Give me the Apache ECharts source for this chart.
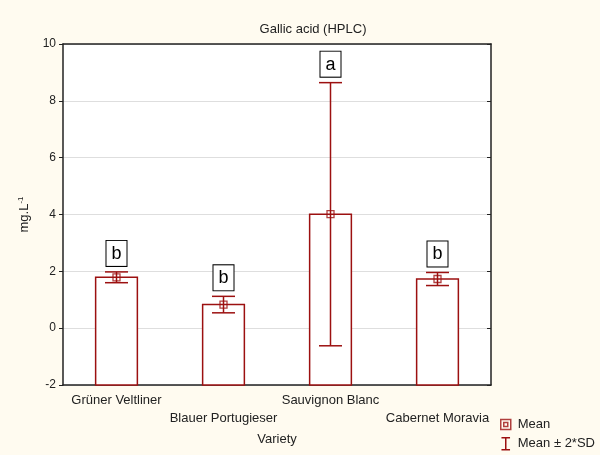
<!DOCTYPE html>
<html>
<head>
<meta charset="utf-8">
<script src="https://cdn.jsdelivr.net/npm/echarts@6/dist/echarts.min.js"></script>
<style>
  html, body { margin: 0; padding: 0; background: #FFFBF0; }
  #chart { width: 600px; height: 455px; }
</style>
</head>
<body>
<div id="chart"></div>
<script>
// Gallic acid content (HPLC) by grape variety: mean with ±2*SD whiskers
const categories = ['Grüner Veltliner', 'Blauer Portugieser', 'Sauvignon Blanc', 'Cabernet Moravia'];
const meanValues = [1.79, 0.83, 4.01, 1.73];
const twoSD = [0.19, 0.29, 4.63, 0.23];
const groupLetters = ['b', 'b', 'a', 'b'];
const yMin = -2, yMax = 10, yStep = 2;

const RED = '#9c1010';
const FONT = 'Liberation Sans, Arial, sans-serif';

const rows = categories.map((c, i) => [i, meanValues[i], twoSD[i], groupLetters[i]]);

const chart = echarts.init(document.getElementById('chart'));

chart.setOption({
  backgroundColor: '#FFFBF0',
  animation: false,
  textStyle: { fontFamily: FONT },
  title: {
    text: 'Gallic acid (HPLC)',
    left: 308, top: 18, textAlign: 'center',
    textStyle: { fontSize: 13, fontWeight: 'normal', color: '#222', fontFamily: FONT }
  },
  legend: {
    orient: 'vertical',
    left: 500, top: 418,
    padding: 0,
    itemWidth: 10, itemHeight: 12, itemGap: 6,
    textStyle: { fontSize: 13, color: '#222', fontFamily: FONT, padding: [0, 0, 0, 2] },
    data: [
      { name: 'Mean', icon: 'path://M0,0H10V10H0Z M3,3H7V7H3Z',
        itemStyle: { color: 'transparent', borderColor: RED, borderWidth: 1.5 } },
      { name: 'Mean ± 2*SD', icon: 'path://M0,0H10 M5,0V14 M0,14H10',
        itemStyle: { color: 'transparent', borderColor: RED, borderWidth: 1.5 } }
    ]
  },
  grid: { left: 63, right: 109, top: 44, bottom: 70, show: true, backgroundColor: '#fff', borderWidth: 0 },
  xAxis: [{
    type: 'category',
    data: categories,
    position: 'bottom',
    name: 'Variety',
    nameLocation: 'middle',
    nameGap: 48,
    nameTextStyle: { fontSize: 13, color: '#222', fontFamily: FONT },
    axisLine: { onZero: false, lineStyle: { color: '#222', width: 1.5 } },
    axisTick: { inside: true, alignWithLabel: true, length: 4, lineStyle: { color: '#222' } },
    axisLabel: {
      interval: 0, margin: 6, fontSize: 13, color: '#222', lineHeight: 18,
      formatter: (v, i) => (i % 2 === 1 ? '\n' + v : v)
    }
  }, {
    type: 'category',
    data: categories,
    position: 'top',
    axisLine: { onZero: false, lineStyle: { color: '#222', width: 1.5 } },
    axisTick: { inside: true, alignWithLabel: true, length: 4, lineStyle: { color: '#222' } },
    axisLabel: { show: false }
  }],
  yAxis: [{
    type: 'value',
    min: yMin, max: yMax, interval: yStep,
    name: 'mg.L{sup|-1}',
    nameLocation: 'middle',
    nameGap: 27,
    nameTextStyle: {
      fontSize: 13, color: '#222', fontFamily: FONT, lineHeight: 15,
      rich: { sup: { fontSize: 8, verticalAlign: 'top', lineHeight: 15, color: '#222' } }
    },
    axisLine: { show: true, onZero: false, lineStyle: { color: '#222', width: 1.5 } },
    axisTick: { show: true, length: 4, lineStyle: { color: '#222' } },
    axisLabel: { margin: 7, fontSize: 12, color: '#222' },
    splitLine: { show: true, lineStyle: { color: '#dedede', width: 1 } }
  }, {
    type: 'value',
    min: yMin, max: yMax, interval: yStep,
    position: 'right',
    axisLine: { show: true, onZero: false, lineStyle: { color: '#222', width: 1.5 } },
    axisTick: { show: true, inside: true, length: 4, lineStyle: { color: '#222' } },
    axisLabel: { show: false },
    splitLine: { show: false }
  }],
  series: [
    {
      // bars rising from the bottom of the value axis to the mean
      type: 'custom',
      name: 'bars',
      data: rows,
      z: 2,
      renderItem: (params, api) => {
        const base = api.coord([api.value(0), yMin]);
        const top = api.coord([api.value(0), api.value(1)]);
        const w = api.size([1, 0])[0] * 0.39;
        return {
          type: 'rect',
          shape: { x: top[0] - w / 2, y: top[1], width: w, height: base[1] - top[1] },
          style: { fill: '#fff', stroke: RED, lineWidth: 1.5 }
        };
      }
    },
    {
      type: 'custom',
      name: 'Mean ± 2*SD',
      data: rows,
      z: 3,
      itemStyle: { color: RED },
      renderItem: (params, api) => {
        const x = api.value(0), m = api.value(1), d = api.value(2);
        const hi = api.coord([x, m + d]);
        const lo = api.coord([x, m - d]);
        const cap = 11.5;
        const st = { stroke: RED, lineWidth: 1.5 };
        return {
          type: 'group',
          children: [
            { type: 'line', shape: { x1: hi[0], y1: hi[1], x2: lo[0], y2: lo[1] }, style: st },
            { type: 'line', shape: { x1: hi[0] - cap, y1: hi[1], x2: hi[0] + cap, y2: hi[1] }, style: st },
            { type: 'line', shape: { x1: lo[0] - cap, y1: lo[1], x2: lo[0] + cap, y2: lo[1] }, style: st }
          ]
        };
      }
    },
    {
      type: 'scatter',
      name: 'Mean',
      data: rows.map(r => [r[0], r[1]]),
      symbol: 'rect',
      symbolSize: 7,
      z: 4,
      itemStyle: { color: 'transparent', borderColor: RED, borderWidth: 1.3 }
    },
    {
      // significance group letters boxed above the upper whisker
      type: 'custom',
      name: 'letters',
      data: rows,
      z: 5,
      renderItem: (params, api) => {
        const i = api.value(0);
        const hi = api.coord([i, api.value(1) + api.value(2)]);
        return {
          type: 'text',
          x: hi[0], y: hi[1] - 6,
          style: {
            text: groupLetters[i],
            fontSize: 18, fontFamily: FONT, fill: '#000',
            align: 'center', verticalAlign: 'bottom',
            backgroundColor: '#fff', borderColor: '#000', borderWidth: 1,
            padding: [4, 5, 3, 5]
          }
        };
      }
    }
  ]
});
</script>
</body>
</html>
